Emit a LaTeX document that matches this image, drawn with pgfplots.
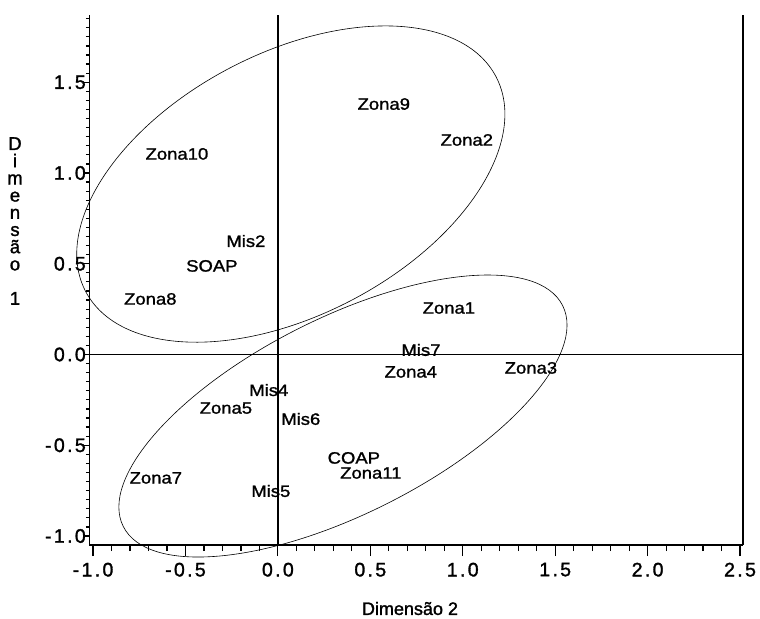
\documentclass[border=0pt]{standalone}
\usepackage{fontspec}
\setmainfont{Liberation Sans}
\newfontfamily\labfont[FakeStretch=1.12, FakeBold=1.3]{Liberation Sans}
\newfontfamily\tickfont[LetterSpace=12, FakeBold=1.5]{Liberation Sans}
\newfontfamily\axfont[FakeBold=1.5]{Liberation Sans}
\usepackage{pgfplots}
\pgfplotsset{compat=1.18}
\usepackage{pgfplotstable}

\pgfplotstableread{
x y label
-0.546 1.105 Zona10
-0.173 0.625 Mis2
-0.357 0.488 SOAP
-0.690 0.306 Zona8
0.573 1.380 Zona9
1.022 1.182 Zona2
0.925 0.256 Zona1
0.774 0.025 Mis7
0.719 -0.096 Zona4
1.369 -0.074 Zona3
0.124 -0.355 Mis6
-0.049 -0.196 Mis4
-0.281 -0.295 Zona5
-0.660 -0.680 Zona7
-0.038 -0.752 Mis5
0.411 -0.570 COAP
0.503 -0.653 Zona11
}\pointdata

\begin{document}
\begin{tikzpicture}
\begin{axis}[
  scale only axis, width=653.5bp, height=530bp,
  xmin=-1.019, xmax=2.516, ymin=-1.0496, ymax=1.8705,
  axis x line*=bottom, axis y line*=left,
  axis line style={line width=1.6bp, -},
  xtick={-1,-0.5,0,0.5,1,1.5,2,2.5},
  xticklabels={-1.0,-0.5,0.0,0.5,1.0,1.5,2.0,2.5},
  ytick={-1,-0.5,0,0.5,1,1.5},
  yticklabels={-1.0,-0.5,0.0,0.5,1.0,1.5},
  minor xtick={-1,-0.9,...,2.51},
  minor ytick={-1,-0.95,...,1.86},
  tick align=outside,
  tick style={line width=1.2bp, black},
  xtick style={/pgfplots/major tick length=11bp,/pgfplots/minor tick length=6bp},
  ytick style={/pgfplots/major tick length=6bp,/pgfplots/minor tick length=3.5bp},
  ticklabel style={font=\tickfont\fontsize{19.5bp}{19.5bp}\selectfont},
  xticklabel style={yshift=-10bp},
  yticklabel style={xshift=4bp},
  clip=false,
]
\addplot[only marks, mark=none, nodes near coords, point meta=explicit symbolic,
  nodes near coords style={anchor=center, inner sep=0pt, font=\labfont\fontsize{16.5bp}{16.5bp}\selectfont}]
  table[meta=label] {\pointdata};
\draw[line width=1.6bp] (rel axis cs:1,0) -- (rel axis cs:1,1);
\draw[line width=1.3bp] (axis cs:0,-1.0496) -- (axis cs:0,1.8705);
\draw[line width=1.3bp] (axis cs:-1.019,0) -- (axis cs:2.516,0);
\draw[line width=0.6bp, rotate around={27.6:(axis cs:0.070,0.939)}] (axis cs:0.070,0.939) ellipse [x radius=231.6bp, y radius=131.1bp];
\draw[line width=0.6bp, rotate around={26.7:(axis cs:0.352,-0.339)}] (axis cs:0.352,-0.339) ellipse [x radius=245.9bp, y radius=98.07bp];
\end{axis}
\node[font=\axfont\fontsize{18.5bp}{17.2bp}\selectfont, align=center, inner sep=0pt] at (-74.5bp,324bp) {D\\i\\m\\e\\n\\s\\ã\\o\\[17.2bp]1};
\node[font=\axfont\fontsize{18bp}{18bp}\selectfont, inner sep=0pt] at (320.5bp,-63.5bp) {Dimensão 2};
\pgfresetboundingbox
\path (-89.5bp,-74bp) rectangle (670.5bp,545bp);
\end{tikzpicture}
\end{document}
